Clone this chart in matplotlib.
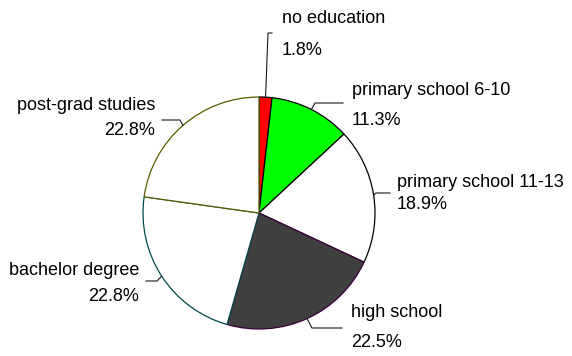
import numpy as np
import matplotlib
matplotlib.use("Agg")
import matplotlib.pyplot as plt

plt.rcParams['font.family'] = ['Liberation Sans', 'DejaVu Sans']

# Education level shares (%)
categories = ["no education", "primary school 6-10", "primary school 11-13",
              "high school", "bachelor degree", "post-grad studies"]
shares = [1.8, 11.3, 18.9, 22.5, 22.8, 22.8]
fill_colors = ["#ff0000", "#00ff00", "#ffffff", "#404040", "#ffffff", "#ffffff"]
edge_colors = ["#000000", "#000000", "#000000", "#3a003a", "#004a4a", "#5a5a00"]

W, H = 572, 356
fig = plt.figure(figsize=(W / 100, H / 100), dpi=100)
ax = fig.add_axes([0, 0, 1, 1])

cx, cy, r = 259, H - 213, 116
wedges, _ = ax.pie(shares, colors=fill_colors, startangle=90, counterclock=False,
                   center=(cx, cy), radius=r,
                   wedgeprops=dict(linewidth=0.9))
for w, ec in zip(wedges, edge_colors):
    w.set_edgecolor(ec)

ax.set_xlim(0, W)
ax.set_ylim(0, H)
ax.set_aspect('equal')
ax.axis('off')

# label layout in pixel coordinates (y from top): text anchor, alignment, elbow, end
layout = [
    dict(t1=(282, 23), t2=(282, 55), ha='left', elbow=(268, 33), end=(272, 33)),
    dict(t1=(352, 95), t2=(352, 125), ha='left', elbow=(315, 103), end=(343, 103)),
    dict(t1=(397, 187), t2=(397, 209), ha='left', elbow=(376, 193), end=(390, 193)),
    dict(t1=(351, 317), t2=(351, 347), ha='left', elbow=(312, 328), end=(342, 328)),
    dict(t1=(139, 275), t2=(139, 301), ha='right', elbow=(157, 281), end=(146, 281)),
    dict(t1=(155, 110), t2=(155, 135), ha='right', elbow=(180, 120), end=(162, 120)),
]

fs = 13
for w, name, val, lay in zip(wedges, categories, shares, layout):
    mid = np.deg2rad((w.theta1 + w.theta2) / 2)
    ax_pt = (cx + r * np.cos(mid), cy + r * np.sin(mid))
    ex, ey = lay['elbow']
    nx, ny = lay['end']
    ax.plot([ax_pt[0], ex, nx], [ax_pt[1], H - ey, H - ny],
            color='#1a1a1a', lw=0.8, solid_joinstyle='miter', zorder=1)
    ax.text(lay['t1'][0], H - lay['t1'][1], name, ha=lay['ha'], va='baseline',
            fontsize=fs, color='black')
    ax.text(lay['t2'][0], H - lay['t2'][1], f"{val:.1f}%", ha=lay['ha'], va='baseline',
            fontsize=fs, color='black')

fig.savefig("out.png", dpi=100, facecolor='white')
